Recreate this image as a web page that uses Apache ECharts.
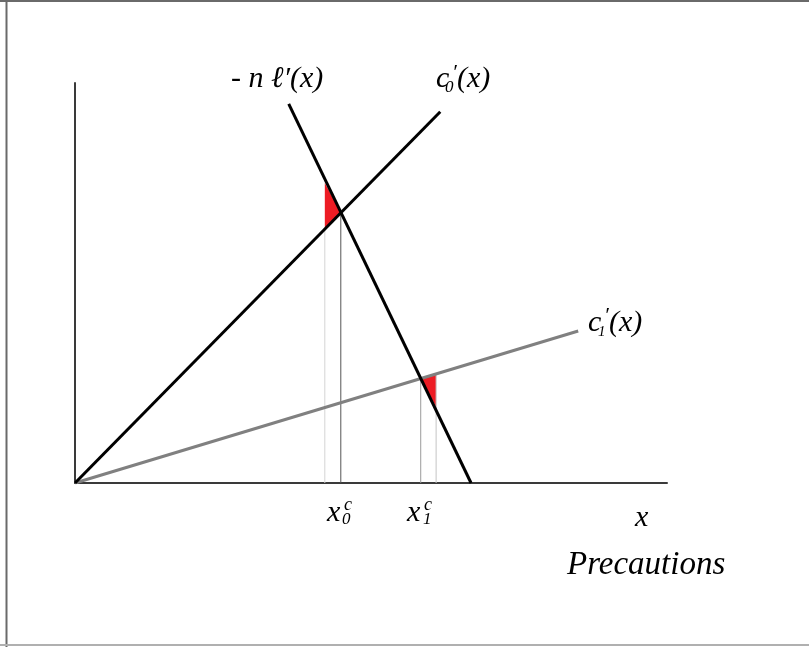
<!DOCTYPE html>
<html>
<head>
<meta charset="utf-8">
<script src="https://cdn.jsdelivr.net/npm/echarts@6/dist/echarts.min.js"></script>
<style>
html,body{margin:0;padding:0;background:#fff;}
#chart{width:809px;height:647px;}
</style>
</head>
<body>
<div id="chart"></div>
<script>
// Curves (x in precaution units 0..100, y in marginal cost units 0..100)
var c0Line = [[0, 0], [61.7, 92.8]];          // c0'(x)
var nlLine = [[36.1, 94.8], [66.9, 0]];       // -n l'(x)
var c1Line = [[0, 0], [85.0, 38.0]];          // c1'(x)
// Vertical guide lines
var x0cLine = [[44.9, 0], [44.9, 67.6]];
var x0aLine = [[42.2, 0], [42.2, 63.5]];
var x1cLine = [[58.4, 0], [58.4, 26.1]];
var x1bLine = [[61.0, 0], [61.0, 27.3]];
// Red triangles
var triangle0 = [[42.2, 75.0], [42.2, 63.5], [44.9, 67.6]];
var triangle1 = [[58.4, 26.1], [61.0, 27.3], [61.0, 19.0]];
var triangles = [triangle0, triangle1];

var chart = echarts.init(document.getElementById('chart'));
var serif = '"Liberation Serif","DejaVu Serif",serif';
function txt(x, y, s, size) {
  return {type: 'text', x: x, y: y, silent: true,
    style: {text: s, font: 'italic ' + size + 'px ' + serif, fill: '#000',
      textAlign: 'left', textVerticalAlign: 'middle'}};
}
function lineSeries(data, color, width) {
  return {type: 'line', data: data, symbol: 'none', silent: true, animation: false,
    lineStyle: {color: color, width: width}, z: 3};
}
var option = {
  animation: false,
  backgroundColor: '#fff',
  grid: {left: 75, right: 142, top: 83, bottom: 164},
  xAxis: {type: 'value', min: 0, max: 100,
    axisLine: {show: true, lineStyle: {color: '#3a3a3a', width: 2}},
    axisTick: {show: false}, axisLabel: {show: false}, splitLine: {show: false}},
  yAxis: {type: 'value', min: 0, max: 100,
    axisLine: {show: true, lineStyle: {color: '#3a3a3a', width: 2}},
    axisTick: {show: false}, axisLabel: {show: false}, splitLine: {show: false}},
  series: [
    {type: 'custom', silent: true, animation: false, z: 2,
      data: triangles.map(function (t, i) { return [i]; }),
      renderItem: function (params, api) {
        var tri = triangles[api.value(0)];
        var pts = tri.map(function (p) { return api.coord(p); });
        return {type: 'polygon', shape: {points: pts},
          style: {fill: '#ed1c24', stroke: null}};
      }},
    lineSeries(x0aLine, '#d4d4d4', 1),
    lineSeries(x0cLine, '#555555', 1),
    lineSeries(x1cLine, '#9a9a9a', 1),
    lineSeries(x1bLine, '#c4c4c4', 1),
    lineSeries(c1Line, '#808080', 3),
    lineSeries(c0Line, '#000000', 3),
    lineSeries(nlLine, '#000000', 3)
  ],
  graphic: [
    {type: 'line', silent: true, shape: {x1: 0, y1: 1, x2: 809, y2: 1}, style: {stroke: '#6a6a6a', lineWidth: 2}},
    {type: 'line', silent: true, shape: {x1: 6.5, y1: 0, x2: 6.5, y2: 647}, style: {stroke: '#6a6a6a', lineWidth: 2}},
    {type: 'line', silent: true, shape: {x1: 0, y1: 645, x2: 809, y2: 645}, style: {stroke: '#b0b0b0', lineWidth: 2}},
    txt(231, 79, '- n \u2113\u2032(x)', 30),
    txt(436, 79, 'c', 30),
    txt(452, 73, '\u2032', 22),
    txt(445, 88, '0', 17),
    txt(457, 79, '(x)', 30),
    txt(588, 323, 'c', 30),
    txt(604, 316, '\u2032', 22),
    txt(598, 332, '1', 15),
    txt(609, 323, '(x)', 30),
    txt(327, 513, 'x', 30),
    txt(344, 505, 'c', 18),
    txt(342, 520, '0', 17),
    txt(407, 513, 'x', 30),
    txt(424, 505, 'c', 18),
    txt(423, 520, '1', 17),
    txt(635, 518, 'x', 30),
    txt(567, 565, 'Precautions', 33)
  ]
};
chart.setOption(option);
</script>
</body>
</html>
